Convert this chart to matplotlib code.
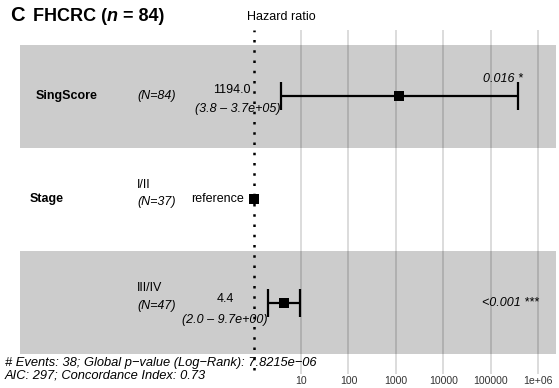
import matplotlib
matplotlib.use("Agg")
import matplotlib.pyplot as plt
import numpy as np
from matplotlib.ticker import NullLocator
from matplotlib.transforms import blended_transform_factory

plt.rcParams["font.family"] = ["Liberation Sans", "DejaVu Sans"]

# data
variables = ["SingScore", "Stage", ""]
levels = ["", "I/II", "III/IV"]
n_obs = [84, 37, 47]
hr = np.array([1194.0, 1.0, 4.4])
ci_low = np.array([3.8, np.nan, 2.0])
ci_high = np.array([3.7e5, np.nan, 9.7])
hr_labels = ["1194.0", "reference", "4.4"]
ci_labels = ["(3.8 – 3.7e+05)", "", "(2.0 – 9.7e+00)"]
p_labels = ["0.016 *", "", "<0.001 ***"]
tick_values = [10, 100, 1000, 10000, 100000, 1e6]
tick_labels = ["10", "100", "1000", "10000", "100000", "1e+06"]
footer = ["# Events: 38; Global p−value (Log−Rank): 7.8215e−06",
          "AIC: 297; Concordance Index: 0.73"]

W, H = 559, 388
X0, DEC = 253.6, 47.4      # pixel of HR=1, pixels per decade
ROW_PX = 103.0
rows = np.array([3, 2, 1])

fig = plt.figure(figsize=(W / 100, H / 100), dpi=100)
ax = fig.add_axes([0, (H - 370) / H, 1, 340 / H])


def px2hr(px):
    return 10 ** ((px - X0) / DEC)


def dy(row, off):
    # vertical offset in pixels (downwards) from a row centre
    return row - off / ROW_PX


ax.set_xscale("log")
ax.set_xlim(px2hr(0), px2hr(W))
ax.set_ylim(1 - (370 - 302.5) / ROW_PX, 3 + (96.5 - 30) / ROW_PX)
ax.set_xticks(tick_values, tick_labels)
ax.xaxis.set_minor_locator(NullLocator())
ax.set_yticks([])
for s in ax.spines.values():
    s.set_visible(False)
ax.grid(axis="x", color="#d2d2d2", lw=1.1)
ax.set_axisbelow(True)
ax.tick_params(axis="x", length=3, width=1.1, color="#d2d2d2", labelsize=7.6,
               labelcolor="#333333", pad=1)

# alternating bands
for r in rows[::2]:
    ax.fill_between([px2hr(20), px2hr(556)], r - 0.5, r + 0.5,
                    color="black", alpha=0.2, lw=0, zorder=1)

# reference line at HR = 1
ax.plot([1, 1], [ax.get_ylim()[0], ax.get_ylim()[1]], color="black", lw=1.8,
        ls=(0, (1, 3.1)), zorder=2, clip_on=False)

ok = ~np.isnan(ci_low)
ax.errorbar(hr[ok], rows[ok], xerr=[hr[ok] - ci_low[ok], ci_high[ok] - hr[ok]],
            fmt="none", ecolor="black", elinewidth=1.6, capsize=10,
            capthick=1.6, zorder=3)
ax.scatter(hr, rows, marker="s", s=52, color="black", zorder=4, lw=0)

trans = blended_transform_factory(ax.transAxes, ax.transData)
fs = 9.0

# left columns
name_x = [36, 30, 30]
for i, r in enumerate(rows):
    if variables[i]:
        ax.text(name_x[i] / W, r, variables[i], transform=trans, fontsize=fs,
                fontweight="bold", ha="left", va="center")
    if levels[i]:
        ax.text(137 / W, dy(r, -14.5), levels[i], transform=trans, fontsize=fs,
                ha="left", va="center")
        ax.text(137 / W, dy(r, 3), f"(N={n_obs[i]})", transform=trans,
                fontsize=fs, style="italic", ha="left", va="center")
    else:
        ax.text(137 / W, r, f"(N={n_obs[i]})", transform=trans, fontsize=fs,
                style="italic", ha="left", va="center")

# estimates and confidence intervals
est_pos = [(232, -6), (218, 0), (225, -3)]
ci_pos = [(238, 13), None, (225, 17)]
for i, r in enumerate(rows):
    ex, ey = est_pos[i]
    ax.text(ex / W, dy(r, ey), hr_labels[i], transform=trans, fontsize=fs,
            ha="center", va="center")
    if ci_labels[i]:
        cx, cy = ci_pos[i]
        ax.text(cx / W, dy(r, cy), ci_labels[i], transform=trans, fontsize=fs,
                style="italic", ha="center", va="center")

# p-values
p_pos = [(523, -17.5), None, (539, 0)]
for i, r in enumerate(rows):
    if p_labels[i]:
        px, py = p_pos[i]
        ax.text(px / W, dy(r, py), p_labels[i], transform=trans, fontsize=fs,
                style="italic", ha="right", va="center")

# titles
t = fig.text(10 / W, 1 - 21 / H, "C", fontsize=14.5, fontweight="bold",
             ha="left", va="baseline")
t1 = fig.text(33 / W, 1 - 21 / H, "FHCRC (", fontsize=13, fontweight="bold",
              ha="left", va="baseline")
t2 = fig.text(0, 0, "n", fontsize=13, fontweight="bold", style="italic",
              ha="left", va="baseline")
t3 = fig.text(0, 0, " = 84)", fontsize=13, fontweight="bold",
              ha="left", va="baseline")
fig.canvas.draw()
r_ = fig.canvas.get_renderer()
bb = t1.get_window_extent(r_)
t2.set_position((bb.x1 / W, 1 - 21 / H))
bb = t2.get_window_extent(r_)
t3.set_position((bb.x1 / W, 1 - 21 / H))

fig.text(247 / W, 1 - 17 / H, "Hazard ratio", fontsize=fs, ha="left",
         va="center")

fig.text(5 / W, 1 - 363 / H, footer[0], fontsize=9.3, style="italic",
         ha="left", va="center")
fig.text(5 / W, 1 - 375 / H, footer[1], fontsize=9.3, style="italic",
         ha="left", va="center")

fig.savefig("out.png", dpi=100)
